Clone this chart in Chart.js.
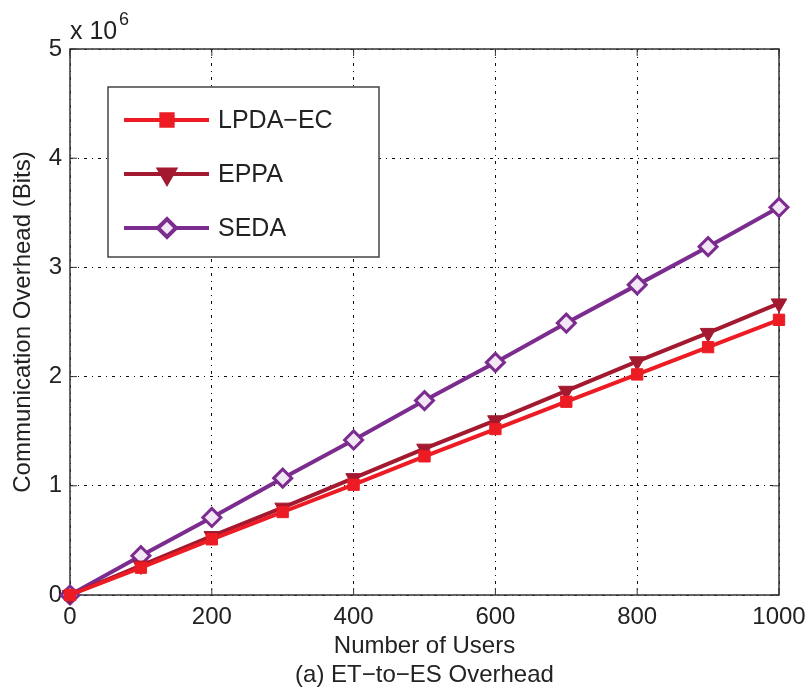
<!DOCTYPE html>
<html>
<head>
<meta charset="utf-8">
<script src="https://cdn.jsdelivr.net/npm/chart.js@4/dist/chart.umd.min.js"></script>
<style>
  html, body { margin: 0; padding: 0; background: #fff; }
  #wrap { width: 809px; height: 690px; }
</style>
</head>
<body>
<div id="wrap"><canvas id="grafico"></canvas></div>
<script>
// dados
var usuarios = [0, 100, 200, 300, 400, 500, 600, 700, 800, 900, 1000];
var lpdaEc = [0, 0.25e6, 0.51e6, 0.76e6, 1.01e6, 1.27e6, 1.52e6, 1.77e6, 2.02e6, 2.27e6, 2.52e6];
var eppa   = [0, 0.27e6, 0.54e6, 0.80e6, 1.07e6, 1.34e6, 1.60e6, 1.87e6, 2.14e6, 2.40e6, 2.67e6];
var seda   = [0, 0.36e6, 0.71e6, 1.07e6, 1.42e6, 1.78e6, 2.13e6, 2.49e6, 2.84e6, 3.19e6, 3.55e6];
var xTicks = [0, 200, 400, 600, 800, 1000];
var yTicks = [0, 1, 2, 3, 4, 5];

var fonte = "'Liberation Sans', Arial, sans-serif";
var corTexto = '#222';

function pares(vals) {
    return usuarios.map(function (u, i) { return { x: u, y: vals[i] }; });
}

// moldura + ticks para dentro (estilo matlab)
var molduraPlugin = {
    id: 'moldura',
    beforeDatasetsDraw: function (chart) {
        var a = chart.chartArea, ctx = chart.ctx;
        var sx = chart.scales.x, sy = chart.scales.y;
        ctx.save();
        ctx.strokeStyle = '#333';
        ctx.lineWidth = 1.5;
        ctx.strokeRect(a.left, a.top, a.right - a.left, a.bottom - a.top);
        ctx.lineWidth = 1;
        ctx.beginPath();
        xTicks.forEach(function (v) {
            var px = sx.getPixelForValue(v);
            ctx.moveTo(px, a.bottom); ctx.lineTo(px, a.bottom - 7);
            ctx.moveTo(px, a.top); ctx.lineTo(px, a.top + 7);
        });
        yTicks.forEach(function (v) {
            var py = sy.getPixelForValue(v * 1e6);
            ctx.moveTo(a.left, py); ctx.lineTo(a.left + 7, py);
            ctx.moveTo(a.right, py); ctx.lineTo(a.right - 7, py);
        });
        ctx.stroke();
        ctx.restore();
    },
    afterDraw: function (chart) {
        var a = chart.chartArea, ctx = chart.ctx;
        ctx.save();
        // expoente
        ctx.fillStyle = corTexto;
        ctx.textBaseline = 'alphabetic';
        ctx.font = '25px ' + fonte;
        ctx.fillText('x 10', a.left, 39);
        ctx.font = '18px ' + fonte;
        ctx.fillText('6', a.left + 49, 25);

        // legenda
        var lx = a.left + 38, ly = a.top + 38, lw = 271, lh = 170;
        ctx.fillStyle = '#fff';
        ctx.fillRect(lx, ly, lw, lh);
        ctx.strokeStyle = '#444';
        ctx.lineWidth = 1.5;
        ctx.strokeRect(lx, ly, lw, lh);
        chart.data.datasets.forEach(function (ds, i) {
            var y = ly + 33 + i * 54;
            ctx.strokeStyle = ds.borderColor;
            ctx.lineWidth = ds.borderWidth;
            ctx.beginPath();
            ctx.moveTo(lx + 16, y);
            ctx.lineTo(lx + 101, y);
            ctx.stroke();
            ctx.fillStyle = ds.pointBackgroundColor;
            ctx.strokeStyle = ds.borderColor;
            Chart.helpers.drawPoint(ctx, {
                pointStyle: ds.pointStyle,
                radius: ds.pointRadius,
                rotation: ds.pointRotation || 0,
                borderWidth: ds.pointBorderWidth
            }, lx + 59, y);
            ctx.fillStyle = corTexto;
            ctx.font = '25px ' + fonte;
            ctx.textBaseline = 'middle';
            ctx.fillText(ds.label, lx + 110, y + 1);
        });
        ctx.restore();
    }
};

function plotarOverhead() {
    var ctx = document.getElementById('grafico').getContext('2d');
    new Chart(ctx, {
        type: 'line',
        data: {
            datasets: [{
                label: 'LPDA\u2212EC',
                data: pares(lpdaEc),
                borderColor: '#ed1c24',
                backgroundColor: '#ed1c24',
                pointBackgroundColor: '#ed1c24',
                borderWidth: 4,
                pointStyle: 'rect',
                pointRadius: 8,
                pointBorderWidth: 1,
                clip: false
            }, {
                label: 'EPPA',
                data: pares(eppa),
                borderColor: '#a3192f',
                backgroundColor: '#a3192f',
                pointBackgroundColor: '#a3192f',
                borderWidth: 4,
                pointStyle: 'triangle',
                pointRotation: 180,
                pointRadius: 9,
                pointBorderWidth: 1,
                clip: false
            }, {
                label: 'SEDA',
                data: pares(seda),
                borderColor: '#7b2c8e',
                backgroundColor: '#7b2c8e',
                pointBackgroundColor: '#f3e6f6',
                borderWidth: 4,
                pointStyle: 'rectRot',
                pointRadius: 9,
                pointBorderWidth: 3,
                clip: false
            }]
        },
        options: {
            responsive: true,
            maintainAspectRatio: false,
            animation: false,
            layout: { padding: { top: 49, right: 30, left: 0, bottom: 0 } },
            plugins: {
                legend: { display: false },
                tooltip: { enabled: false }
            },
            elements: { line: { tension: 0 } },
            scales: {
                x: {
                    type: 'linear',
                    min: 0,
                    max: 1000,
                    afterFit: function (s) {
                        s.height = 95;
                        s.paddingLeft = 0;
                        s.paddingRight = 0;
                    },
                    afterBuildTicks: function (s) {
                        s.ticks = xTicks.map(function (v) { return { value: v }; });
                    },
                    ticks: {
                        padding: 8,
                        color: corTexto,
                        font: { family: fonte, size: 24 },
                        maxRotation: 0,
                        callback: function (v) { return String(v); }
                    },
                    grid: {
                        color: '#111',
                        lineWidth: 1,
                        drawTicks: false
                    },
                    border: { display: false, dash: [3, 5, 1, 5] },
                    title: {
                        display: true,
                        text: ['Number of Users', '(a) ET\u2212to\u2212ES Overhead'],
                        color: corTexto,
                        font: { family: fonte, size: 24, lineHeight: 1.2 },
                        padding: { top: 0, bottom: 0 }
                    }
                },
                y: {
                    min: 0,
                    max: 5e6,
                    afterFit: function (s) { s.width = 70; },
                    afterBuildTicks: function (s) {
                        s.ticks = yTicks.map(function (v) { return { value: v * 1e6 }; });
                    },
                    ticks: {
                        padding: 8,
                        color: corTexto,
                        font: { family: fonte, size: 24 },
                        callback: function (v) { return v / 1e6; }
                    },
                    grid: {
                        color: '#111',
                        lineWidth: 1,
                        drawTicks: false
                    },
                    border: { display: false, dash: [3, 5, 1, 5] },
                    title: {
                        display: true,
                        text: 'Communication Overhead (Bits)',
                        color: corTexto,
                        font: { family: fonte, size: 24, lineHeight: 1.2 },
                        padding: { top: 9, bottom: 0 }
                    }
                }
            }
        },
        plugins: [molduraPlugin]
    });
}

plotarOverhead();
</script>
</body>
</html>
